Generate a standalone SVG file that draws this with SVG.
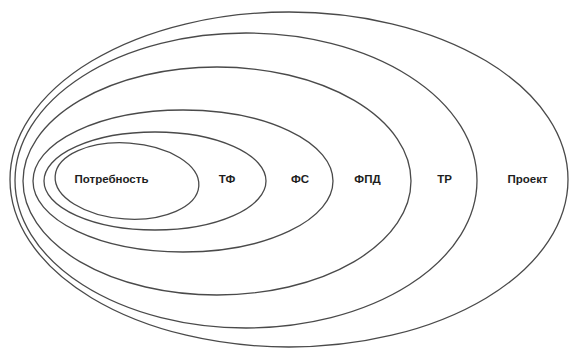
<svg xmlns="http://www.w3.org/2000/svg" width="571" height="348" viewBox="0 0 571 348">
<style>
.e{fill:none;stroke:#4a4a4a;stroke-width:1.3}
.t{font-family:"Liberation Sans",Arial,sans-serif;font-weight:bold;font-size:11.5px;fill:#1e1e1e;text-anchor:middle}
</style>
<rect width="571" height="348" fill="#fff"/>
<g id="n-proekt"><ellipse class="e" cx="289" cy="179.5" rx="279" ry="167.5"/><text class="t" x="527.5" y="183">Проект</text></g>
<g id="n-tr"><ellipse class="e" cx="246" cy="180.5" rx="231" ry="147.5"/><text class="t" x="444.5" y="183">ТР</text></g>
<g id="n-fpd"><ellipse class="e" cx="217" cy="181" rx="194" ry="114"/><text class="t" x="367.5" y="183">ФПД</text></g>
<g id="n-fs"><ellipse class="e" cx="183" cy="181" rx="150" ry="71"/><text class="t" x="300" y="183">ФС</text></g>
<g id="n-tf"><ellipse class="e" cx="155" cy="181" rx="111" ry="49"/><text class="t" x="227" y="183">ТФ</text></g>
<g id="n-need"><ellipse class="e" cx="127" cy="181" rx="72" ry="38" transform="rotate(4 127 181)"/><text class="t" x="111.5" y="183">Потребность</text></g>
<g id="connectors"/>
</svg>
